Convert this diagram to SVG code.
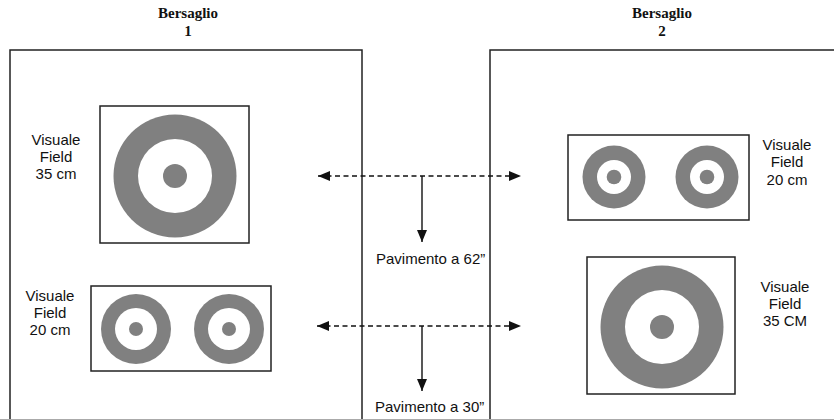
<svg xmlns="http://www.w3.org/2000/svg" width="834" height="420" viewBox="0 0 834 420">
<defs>
<style>
.frame{fill:none;stroke:#222;stroke-width:1.5}
.box{fill:#fff;stroke:#222;stroke-width:1.5}
.ring{fill:#808080}
.hole{fill:#fff}
.lbl{font-family:"Liberation Sans",Arial,sans-serif;font-size:15px;fill:#111;text-anchor:middle}
.pav{font-family:"Liberation Sans",Arial,sans-serif;font-size:15px;fill:#111}
.title{font-family:"Liberation Serif","Times New Roman",serif;font-size:15px;font-weight:bold;fill:#111;text-anchor:middle}
.dash{stroke:#111;stroke-width:1.5;stroke-dasharray:5,3.5;fill:none}
.solid{stroke:#111;stroke-width:1.4;fill:none}
</style>
<marker id="ah" viewBox="0 0 12 10" refX="12" refY="5" markerWidth="12" markerHeight="10" markerUnits="userSpaceOnUse" orient="auto-start-reverse">
<path d="M0,0 L12,5 L0,10 Z" fill="#111"/>
</marker>
</defs>
<rect width="834" height="420" fill="#fff"/>

<g id="bersaglio1">
<rect class="frame" x="10" y="50" width="352" height="400"/>
<text class="title" x="188" y="18">Bersaglio</text>
<text class="title" x="188" y="36">1</text>
</g>

<g id="bersaglio2">
<rect class="frame" x="490" y="50" width="400" height="400"/>
<text class="title" x="662" y="18">Bersaglio</text>
<text class="title" x="662" y="36">2</text>
</g>

<g id="target1-35cm">
<rect class="box" x="100" y="106" width="149" height="137"/>
<circle class="ring" cx="175" cy="176" r="61.5"/>
<circle class="hole" cx="175" cy="176" r="37"/>
<circle class="ring" cx="175" cy="176" r="12"/>
<text class="lbl" x="56" y="145">Visuale</text>
<text class="lbl" x="56" y="162">Field</text>
<text class="lbl" x="56" y="179">35 cm</text>
</g>

<g id="target1-20cm">
<rect class="box" x="91" y="286" width="180" height="85"/>
<circle class="ring" cx="136" cy="329" r="35"/>
<circle class="hole" cx="136" cy="329" r="21"/>
<circle class="ring" cx="136" cy="329" r="7"/>
<circle class="ring" cx="229" cy="329" r="35"/>
<circle class="hole" cx="229" cy="329" r="21"/>
<circle class="ring" cx="229" cy="329" r="7"/>
<text class="lbl" x="50" y="301">Visuale</text>
<text class="lbl" x="50" y="318">Field</text>
<text class="lbl" x="50" y="335">20 cm</text>
</g>

<g id="target2-20cm">
<rect class="box" x="568" y="135" width="181" height="85"/>
<circle class="ring" cx="614" cy="177" r="31.5"/>
<circle class="hole" cx="614" cy="177" r="17"/>
<circle class="ring" cx="614" cy="177" r="7.3"/>
<circle class="ring" cx="707" cy="177" r="31.5"/>
<circle class="hole" cx="707" cy="177" r="17"/>
<circle class="ring" cx="707" cy="177" r="7.3"/>
<text class="lbl" x="787" y="150">Visuale</text>
<text class="lbl" x="787" y="167">Field</text>
<text class="lbl" x="787" y="185">20 cm</text>
</g>

<g id="target2-35cm">
<rect class="box" x="587" y="257" width="148" height="137"/>
<circle class="ring" cx="662" cy="327" r="61.5"/>
<circle class="hole" cx="662" cy="327" r="37"/>
<circle class="ring" cx="662" cy="327" r="12"/>
<text class="lbl" x="785" y="292">Visuale</text>
<text class="lbl" x="785" y="309">Field</text>
<text class="lbl" x="785" y="326">35 CM</text>
</g>

<g id="connectors">
<line class="dash" x1="318" y1="176" x2="521" y2="176" marker-start="url(#ah)" marker-end="url(#ah)"/>
<line class="solid" x1="422" y1="176" x2="422" y2="242" marker-end="url(#ah)"/>
<line class="dash" x1="317" y1="326" x2="521" y2="326" marker-start="url(#ah)" marker-end="url(#ah)"/>
<line class="solid" x1="422" y1="326" x2="422" y2="391" marker-end="url(#ah)"/>
</g>

<g id="labels">
<text class="pav" x="376" y="264">Pavimento a 62”</text>
<text class="pav" x="375" y="412">Pavimento a 30”</text>
</g>
<line x1="0" y1="419.5" x2="834" y2="419.5" stroke="#aaa" stroke-width="1"/>
</svg>
